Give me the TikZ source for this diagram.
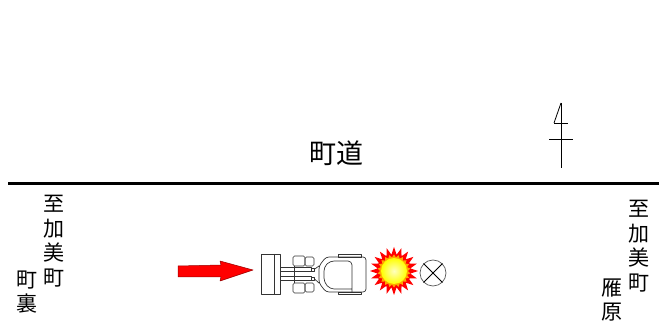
\documentclass[tikz,border=0pt]{standalone}
\usepackage{fontspec}
\newfontfamily\jp{Noto Sans CJK JP}
\usepackage{tikz}
\usetikzlibrary{shapes.geometric}
\tikzset{v/.style={font=\jp\fontsize{21}{24.5}\selectfont, align=center, inner sep=0pt}}
\tikzset{h/.style={font=\jp\fontsize{27}{27}\selectfont, inner sep=0pt}}
\tikzset{m/.style={line width=0.7pt, draw=black!80}}

\begin{document}
\begin{tikzpicture}[x=1pt,y=-1pt,line join=round]
  \useasboundingbox (0,0) rectangle (659,323);
  % road
  \draw[line width=3pt] (8,184) -- (659,184);
  \node[h] (road) at (336,153) {町道};
  % north mark
  \draw[line width=0.8pt] (561,103) -- (561,168);
  \draw[line width=0.8pt] (549,139) -- (573,139);
  \draw[line width=0.8pt] (554,123) -- (568,123);
  \draw[line width=0.8pt] (554,123) -- (561,103);
  % directions
  \node[v] (A) at (54,241) {至\\加\\美\\町};
  \node[v] (B) at (27,292) {町\\裏};
  \node[v] (C) at (639,246) {至\\加\\美\\町};
  \node[v] (D) at (612,300) {雁\\原};
  % direction of travel
  \filldraw[fill=red, draw=red!60!black, line width=0.5pt]
    (178,266) -- (221,265) -- (220,261) -- (253,270) -- (220,281) -- (221,277) -- (178,277) -- cycle;
  % excavator, top view
  \begin{scope}[m]
    \draw (261,254) rectangle (280,294);
    \draw (274,254) -- (274,294);
    \draw (280,267) rectangle (311,271.5);
    \draw (280,276) rectangle (311,280.5);
    \draw (294,266) -- (294,283);
    \draw[rounded corners=1.5] (293,256) rectangle (305,266);
    \draw[rounded corners=1.5] (305,257) rectangle (314,266);
    \draw[rounded corners=1.5] (293,283) rectangle (305,293);
    \draw[rounded corners=1.5] (305,283) rectangle (314,292);
    \draw (311,268) rectangle (314,271);
    \draw (311,277) rectangle (314,280);
    \draw (314,269.5) -- (319,266);
    \draw (314,278.5) -- (319,283);
    \draw (338,254.5) rectangle (361,257);
    \draw (338,292) rectangle (361,294.5);
    \draw[rounded corners=3] (326,257) -- (366,257) -- (366,292) -- (326,292) -- (319,283) -- (319,266) -- cycle;
    \draw[rounded corners=4] (352,292) -- (352,261) -- (330,261) -- (324,267) -- (324,282) -- (330,289) -- (352,289);
  \end{scope}
  % blast
  \node[star, star points=20, star point ratio=1.45, minimum size=48pt, fill=red, inner sep=0pt] (E) at (394,271) {};
  \node[star, star points=22, star point ratio=1.2, minimum size=33pt, fill=orange!70!yellow, inner sep=0pt] (F) at (394,271) {};
  \shade[inner color=yellow!25!white, outer color=yellow] (394,271) circle (13);
  % point of impact
  \node[circle, draw=black!65, line width=0.7pt, minimum size=26pt, inner sep=0pt] (G) at (433,273) {};
  \draw[line width=1pt] (G.north east) -- (G.south west);
  \draw[line width=1pt] (G.north west) -- (G.south east);
\end{tikzpicture}
\end{document}
